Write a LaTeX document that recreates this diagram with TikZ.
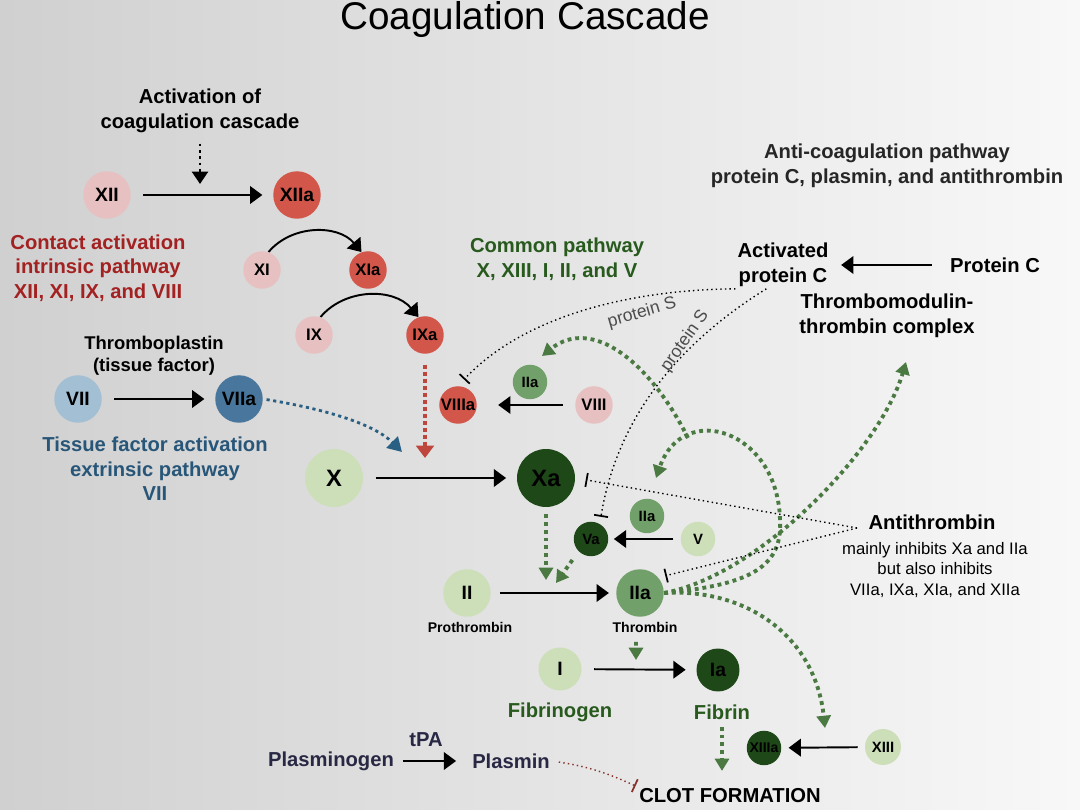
\documentclass[tikz,border=0pt]{standalone}
\usepackage{fontspec}
\setmainfont{Liberation Sans}
\usepackage{tikz}
\usetikzlibrary{arrows.meta}
\pgfdeclarelayer{bg}
\pgfsetlayers{bg,main}
\definecolor{fpink}{RGB}{231,193,193}
\definecolor{fred}{RGB}{211,86,74}
\definecolor{fblue}{RGB}{163,191,212}
\definecolor{fdblue}{RGB}{72,118,156}
\definecolor{fpale}{RGB}{204,223,184}
\definecolor{fmid}{RGB}{114,160,106}
\definecolor{fdark}{RGB}{30,72,24}
\definecolor{tred}{RGB}{163,33,33}
\definecolor{tblue}{RGB}{40,86,120}
\definecolor{tgreen}{RGB}{40,90,30}
\definecolor{tnavy}{RGB}{40,40,68}
\definecolor{gdots}{RGB}{74,122,66}
\definecolor{bdots}{RGB}{40,95,130}
\definecolor{rdots}{RGB}{190,70,60}
\definecolor{bgl}{RGB}{208,208,208}
\definecolor{bgm}{RGB}{236,236,236}
\definecolor{bgr}{RGB}{248,248,248}
\tikzset{
    fac/.style={circle, inner sep=0mm},
    fbig/.style={fac, minimum size=0.95cm, font=\fontsize{11}{13}\selectfont\bfseries},
    fmed/.style={fac, minimum size=0.75cm, font=\fontsize{9.5}{11}\selectfont\bfseries},
    fsml/.style={fac, minimum size=0.69cm, font=\fontsize{8.5}{10}\selectfont\bfseries},
    fhuge/.style={fac, minimum size=1.16cm, font=\fontsize{13.5}{15}\selectfont\bfseries},
    lbl/.style={align=center, inner sep=1pt, font=\fontsize{11.5}{14}\selectfont\bfseries},
    conv/.style={line width=1.1pt, shorten <=7pt, shorten >=6pt, -{Triangle[length=7pt,width=10pt]}},
    gdot/.style={gdots, line width=2.2pt, dash pattern=on 2.2pt off 2.2pt, -{Triangle[length=7pt,width=8pt]}},
    inh/.style={line width=0.8pt, dash pattern=on 0.8pt off 1.8pt, -{Bar[width=8pt,line width=1pt]}},
    pslbl/.style={inner sep=0pt, text=black!70, font=\fontsize{10}{11}\selectfont},
}

\begin{document}
\begin{tikzpicture}[x=0.02cm, y=-0.02cm]
    \useasboundingbox (0,0) rectangle (1080,810);
    \node (title) at (525,20) {\fontsize{22}{26}\selectfont Coagulation Cascade};
    \node (act) [lbl] at (200,111) {Activation of\\coagulation cascade};
    \node (xii) [fbig, fill=fpink] at (107,195) {XII};
    \node (xiia) [fbig, fill=fred] at (297,195) {XIIa};
    \node (xi) [fmed, fill=fpink] at (262,270) {XI};
    \node (xia) [fmed, fill=fred] at (368,270) {XIa};
    \node (ix) [fmed, fill=fpink] at (314,335) {IX};
    \node (ixa) [fmed, fill=fred] at (425,335) {IXa};
    \node (intr) [lbl, text=tred] at (98,268) {Contact activation\\intrinsic pathway\\XII, XI, IX, and VIII};
    \node (tf) [lbl, font=\fontsize{10.5}{12.5}\selectfont\bfseries] at (154,356) {Thromboplastin\\(tissue factor)};
    \node (vii) [fbig, fill=fblue] at (78,399) {VII};
    \node (viia) [fbig, fill=fdblue] at (239,399) {VIIa};
    \node (extr) [lbl, text=tblue] at (155,469) {Tissue factor activation\\extrinsic pathway\\VII};
    \node (x) [fhuge, fill=fpale] at (334,478) {X};
    \node (xa) [fhuge, fill=fdark] at (546,478) {Xa};
    \node (comm) [lbl, text=tgreen] at (557,259) {Common pathway\\X, XIII, I, II, and V};
    \node (viiia) [fmed, fill=fred] at (458,405) {VIIIa};
    \node (viii) [fmed, fill=fpink] at (594,405) {VIII};
    \node (iiab) [fsml, fill=fmid] at (530,382) {IIa};
    \node (va) [fsml, fill=fdark] at (591,539) {Va};
    \node (iiac) [fsml, fill=fmid] at (647,516) {IIa};
    \node (v) [fsml, fill=fpale] at (698,539) {V};
    \node (ii) [fbig, fill=fpale] at (467,593) {II};
    \node (iia) [fbig, fill=fmid] at (640,593) {IIa};
    \node (pro) [font=\fontsize{8}{9}\selectfont\bfseries] at (470,627) {Prothrombin};
    \node (thr) [font=\fontsize{8}{9}\selectfont\bfseries] at (645,627) {Thrombin};
    \node (i) [fbig, minimum size=0.86cm, fill=fpale] at (560,669) {I};
    \node (ia) [fbig, minimum size=0.86cm, fill=fdark] at (718,670) {Ia};
    \node (fbg) [lbl, text=tgreen] at (560,712) {Fibrinogen};
    \node (fib) [lbl, text=tgreen] at (722,712) {Fibrin};
    \node (xiiia) [fsml, font=\fontsize{8}{9}\selectfont\bfseries, fill=fdark] at (764,748) {XIIIa};
    \node (xiii) [fsml, minimum size=0.72cm, fill=fpale] at (883,747) {XIII};
    \node (clot) [lbl] at (730,796) {CLOT FORMATION};
    \node (plg) [lbl, text=tnavy] at (331,761) {Plasminogen};
    \node (tpa) [lbl, text=tnavy] at (426,740) {tPA};
    \node (plm) [lbl, text=tnavy] at (511,761) {Plasmin};
    \node (anti) [lbl, font=\fontsize{11.5}{14}\selectfont\bfseries\color{black!85}] at (887,166) {Anti-coagulation pathway\\protein C, plasmin, and antithrombin};
    \node (apc) [lbl] at (783,265) {Activated\\protein C};
    \node (pc) [lbl] at (995,265) {Protein C};
    \node (tmc) [lbl] at (887,316) {Thrombomodulin-\\thrombin complex};
    \node (at) [lbl] at (932,522) {Antithrombin};
    \node (atd) [align=center, font=\fontsize{9.5}{11.4}\selectfont] at (935,570) {mainly inhibits Xa and IIa\\but also inhibits\\VIIa, IXa, XIa, and XIIa};
    \node (ps1) [pslbl, rotate=16] at (642,313) {protein S};
    \node (ps2) [pslbl, rotate=55] at (685,341) {protein S};

    \coordinate (acttip) at (200,184);
    \coordinate (viiatip) at (402,452);
    \coordinate (ixatip) at (425,458);
    \coordinate (xatip) at (546,580);
    \coordinate (vatip) at (556,583);
    \coordinate (thrtip) at (636,660);
    \coordinate (tmtip) at (906,362);
    \coordinate (xiiitip) at (825,728);
    \coordinate (loopend) at (656,478);
    \coordinate (fb) at (688,438);
    \coordinate (viiitip) at (542,356);
    \coordinate (atc) at (857,528);

    \begin{pgfonlayer}{bg}
        \shade[left color=bgl, middle color=bgm, right color=bgr] (0,0) rectangle (1080,810);
        \draw (xii) edge[conv] (xiia);
        \draw (vii) edge[conv] (viia);
        \draw (x) edge[conv] (xa);
        \draw (viii) edge[conv, shorten >=12pt] (viiia);
        \draw (v) edge[conv, shorten <=4pt, shorten >=3pt] (va);
        \draw (ii) edge[conv, shorten <=5pt, shorten >=4pt] (iia);
        \draw (i) edge[conv] (ia);
        \draw (xiii) edge[conv, shorten <=4pt, shorten >=4pt] (xiiia);
        \draw (plg) edge[conv, shorten <=4pt, shorten >=8pt] (plm);
        \draw (pc) edge[conv, shorten <=9pt, shorten >=6pt] (apc);
        \draw (xi.70) edge[conv, shorten <=0pt, shorten >=0pt, bend left=50] (xia.110);
        \draw (ix.70) edge[conv, shorten <=0pt, shorten >=0pt, bend left=50] (ixa.110);

        \draw[line width=1.6pt, dash pattern=on 1.6pt off 2pt, shorten <=5pt, -{Triangle[length=7pt,width=9pt]}] (act.south) -- (acttip);
        \draw[bdots, line width=1.6pt, dash pattern=on 1.8pt off 2pt, shorten <=2pt, -{Triangle[length=8pt,width=9pt]}] (viia.east) .. controls (330,410) and (375,425) .. (viiatip);
        \draw[rdots, line width=1.8pt, dash pattern=on 2.5pt off 1.5pt, shorten <=6pt, -{Triangle[length=7pt,width=10pt]}] (ixa.south) -- (ixatip);

        \draw[gdot, shorten <=4pt] (xa.south) -- (xatip);
        \draw[gdot, shorten <=6pt] (va.225) -- (vatip);
        \draw[gdot, shorten <=2pt] ([xshift=-0.18cm]thr.south) -- (thrtip);
        \draw[gdot, shorten <=3pt, shorten >=9pt] (fib.south) -- (fib.south |- clot.north);
        \draw[gdot] (iia.east) .. controls (760,575) and (880,450) .. (tmtip);
        \draw[gdot] (iia.east) .. controls (745,588) and (815,635) .. (xiiitip);
        \draw[gdot] (iia.east) .. controls (745,585) and (783,570) .. (780,520) .. controls (778,430) and (683,400) .. (loopend);
        \draw[gdot] (fb) .. controls (650,362) and (592,316) .. (viiitip);

        \draw[inh, shorten >=5pt] (apc.south west) .. controls (620,290) and (520,320) .. (viiia.north);
        \draw[inh, shorten >=4pt] (apc.235) .. controls (700,330) and (620,400) .. (va.60);
        \draw[inh, shorten >=6pt] (atc) -- (xa.east);
        \draw[inh, shorten >=4pt] (atc) -- (iia.40);
        \draw[inh, rdots!70!black, shorten <=4pt, shorten >=1pt] (plm.east) to[bend left=8] (clot.north west);
    \end{pgfonlayer}
\end{tikzpicture}
\end{document}
